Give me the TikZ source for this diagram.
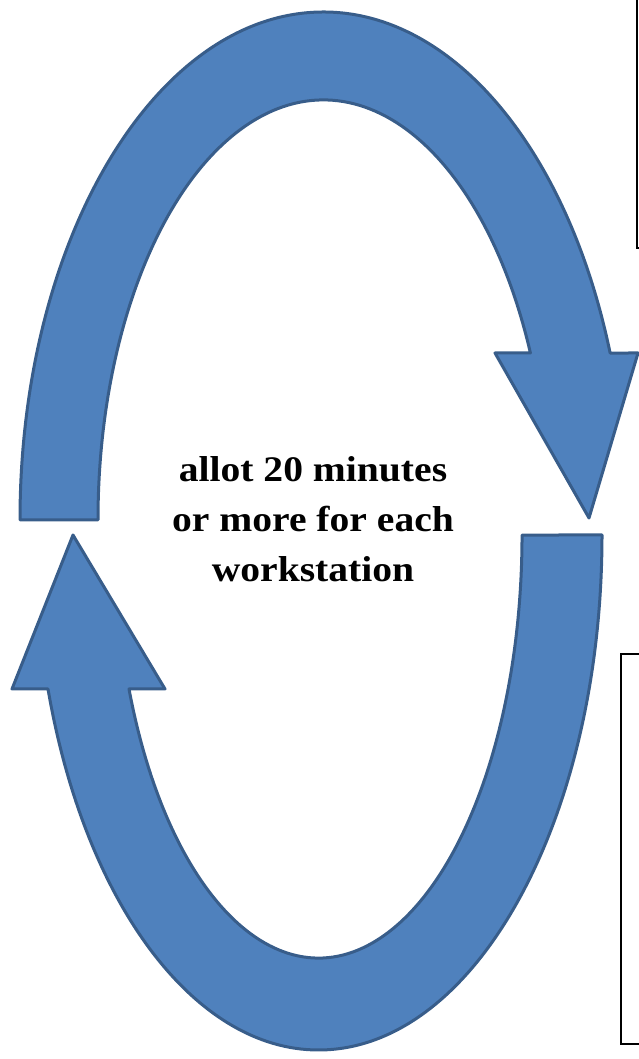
\documentclass[tikz,border=0pt]{standalone}
\usepackage{fontspec}
\setmainfont{Liberation Serif}
\newfontfamily\captionfont[FakeStretch=1.1]{Liberation Serif}
\definecolor{arrowfill}{HTML}{4F81BD}
\definecolor{arrowline}{HTML}{385D8A}
\tikzset{
  cyclearrow/.style={fill=arrowfill, draw=arrowline, line width=3pt, line join=round},
  framebox/.style={draw=black, line width=1.5pt},
  caption/.style={font=\captionfont\bfseries\fontsize{36}{50}\selectfont, align=center, inner sep=0pt}
}
\begin{document}
\begin{tikzpicture}[x=1pt,y=1pt]
\useasboundingbox (0,0) rectangle (639,1059);
\clip (0,0) rectangle (639,1059);
% top arrow
\path[cyclearrow] (20,539)
  arc[start angle=180,end angle=19.19,x radius=303.5pt,y radius=508pt]
  -- (638,706) -- (589,541) -- (495,706) -- (530.4,706)
  arc[start angle=23.43,end angle=180,x radius=225.5pt,y radius=420pt]
  -- cycle;
% bottom arrow
\path[cyclearrow] (602,524)
  arc[start angle=0,end angle=-162.6,x radius=283.5pt,y radius=515pt]
  -- (12,370) -- (73,524) -- (165,370) -- (129,370)
  arc[start angle=-158.65,end angle=0,x radius=203.5pt,y radius=423pt]
  -- cycle;
% text boxes (partly outside the page)
\draw[framebox] (637,811) rectangle (700,1070);
\draw[framebox] (621,15) rectangle (700,405);
\node[caption] (caption) at (313,540) {allot 20 minutes\\or more for each\\workstation};
\end{tikzpicture}
\end{document}
